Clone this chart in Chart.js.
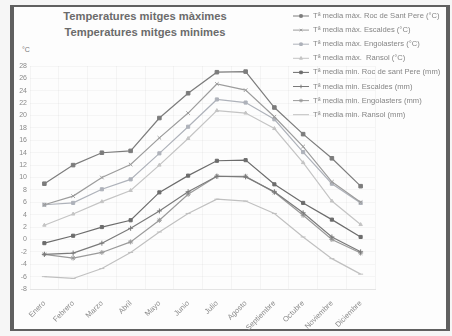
<!DOCTYPE html>
<html>
<head>
<meta charset="utf-8">
<script src="https://cdn.jsdelivr.net/npm/chart.js@4.4.0/dist/chart.umd.min.js"></script>
<style>
  body { margin: 0; background: #f6f6f6; font-family: "Liberation Sans", Arial, sans-serif; }
  #frame { position: absolute; left: 10px; top: 5px; width: 432px; height: 322px;
           border: 2px solid #606060; border-left-width: 4px; border-right-width: 4px; background: #fdfdfd; }
  .title { position: absolute; left: 42px; width: 206px; text-align: center; font-weight: bold;
           font-size: 11.2px; color: #6b6b6b; }
  #unit { position: absolute; left: 22px; top: 46px; font-size: 7px; color: #777; }
  #wrap { position: absolute; left: 0; top: 0; width: 452px; height: 336px; }
</style>
</head>
<body>
<div id="frame"></div>
<div class="title" style="top:10px">Temperatures mitges màximes</div>
<div class="title" style="top:26px">Temperatures mitges minimes</div>
<div id="unit">°C</div>
<div id="wrap"><canvas id="tempChart" width="452" height="336"></canvas></div>
<script>
// meses
const months = ["Enero", "Febrero", "Marzo", "Abril", "Mayo", "Junio", "Julio", "Agosto",
                "Septiembre", "Octubre", "Noviembre", "Diciembre"];

// temperaturas máximas (°C)
const maxRoc = [9, 12, 14, 14.3, 19.6, 23.6, 27, 27.1, 21.3, 17, 13.1, 8.6];
const maxEscaldes = [5.6, 7.0, 10, 12.1, 16.4, 20.4, 25.1, 24.1, 19.8, 15, 9.3, 6.0];
const maxEngolasters = [5.6, 5.9, 8.1, 9.7, 13.9, 18.2, 22.6, 22.1, 19.4, 14.1, 9.0, 5.9];
const maxRansol = [2.3, 4.1, 6.1, 7.9, 12, 16.3, 20.8, 20.4, 17.9, 12.4, 6.2, 2.4];

// temperaturas mínimas
const minRoc = [-0.6, 0.6, 2.0, 3.1, 7.6, 10.3, 12.7, 12.8, 8.9, 5.9, 3.2, 0.4];
const minEscaldes = [-2.4, -2.2, -0.6, 1.8, 4.6, 7.7, 10.2, 10.1, 7.7, 4.3, 0.4, -2.0];
const minEngolasters = [-2.4, -3.0, -2.1, -0.4, 3.1, 7.3, 10.2, 10.2, 7.6, 3.9, 0.0, -2.2];
const minRansol = [-6.0, -6.3, -4.7, -2.1, 1.2, 4.2, 6.5, 6.2, 4.2, 0.4, -3.1, -5.6];

const seriesNames = [
    "Tª media màx. Roc de Sant Pere (°C)",
    "Tª media màx. Escaldes (°C)",
    "Tª media màx. Engolasters (°C)",
    "Tª media màx.  Ransol (°C)",
    "Tª media min. Roc de sant Pere (mm)",
    "Tª media min. Escaldes (mm)",
    "Tª media min. Engolasters (mm)",
    "Tª media min. Ransol (mm)"
];
const seriesData = [maxRoc, maxEscaldes, maxEngolasters, maxRansol,
                    minRoc, minEscaldes, minEngolasters, minRansol];
const yTicks = [-8, 28, 2]; // min, max, step

const styles = [
    { color: "#7c7c7c", point: "rect", r: 2.5 },
    { color: "#9c9c9c", point: "crossRot", r: 2.5 },
    { color: "#aeb2ba", point: "rect", r: 2.2 },
    { color: "#c4c4c4", point: "triangle", r: 2 },
    { color: "#6c6c6c", point: "rect", r: 2.2 },
    { color: "#7a7a7a", point: "cross", r: 2.5 },
    { color: "#9a9a9a", point: "star", r: 2.5 },
    { color: "#c0c0c0", point: "line", r: 2.5 }
];

const datasets = seriesData.map((d, i) => ({
    label: seriesNames[i],
    data: d,
    borderColor: styles[i].color,
    backgroundColor: styles[i].color,
    borderWidth: 1.2,
    pointStyle: styles[i].point,
    pointRadius: styles[i].r,
    pointBorderWidth: 1,
    tension: 0
}));

// leyenda dibujada a mano arriba a la derecha
const sideLegend = {
    id: "sideLegend",
    afterDraw(chart) {
        const ctx = chart.ctx;
        ctx.save();
        ctx.font = "7.6px 'Liberation Sans', Arial, sans-serif";
        ctx.textBaseline = "middle";
        chart.data.datasets.forEach((ds, i) => {
            const y = 16 + i * 14.1;
            ctx.strokeStyle = ds.borderColor;
            ctx.lineWidth = 1;
            ctx.beginPath();
            ctx.moveTo(293, y);
            ctx.lineTo(309, y);
            ctx.stroke();
            if (Chart.helpers && Chart.helpers.drawPoint && ds.pointStyle !== "line") {
                ctx.fillStyle = ds.backgroundColor;
                Chart.helpers.drawPoint(ctx, { pointStyle: ds.pointStyle, radius: 1.8, borderWidth: 1 }, 301, y);
            }
            ctx.fillStyle = "#858585";
            ctx.fillText(ds.label, 313, y);
        });
        ctx.restore();
    }
};

const ctx = document.getElementById("tempChart").getContext("2d");
new Chart(ctx, {
    type: "line",
    data: { labels: months, datasets: datasets },
    options: {
        responsive: false,
        animation: false,
        layout: { padding: { left: 14, top: 66, right: 77, bottom: 0 } },
        plugins: {
            legend: { display: false },
            tooltip: { enabled: false }
        },
        scales: {
            x: {
                offset: true,
                grid: { color: "rgba(0,0,0,0.035)", offset: true, drawTicks: false },
                border: { color: "#e4e4e4" },
                ticks: { color: "#8a8a8a", font: { size: 7.5 }, maxRotation: 45, minRotation: 45, padding: 10 },
                afterFit: s => { s.height = 47; }
            },
            y: {
                min: yTicks[0],
                max: yTicks[1],
                grid: { color: "rgba(0,0,0,0.03)", drawTicks: false },
                border: { display: false },
                ticks: { stepSize: yTicks[2], color: "#8a8a8a", font: { size: 7 }, padding: 3 },
                afterFit: s => { s.width = 16; }
            }
        }
    },
    plugins: [sideLegend]
});
</script>
</body>
</html>
